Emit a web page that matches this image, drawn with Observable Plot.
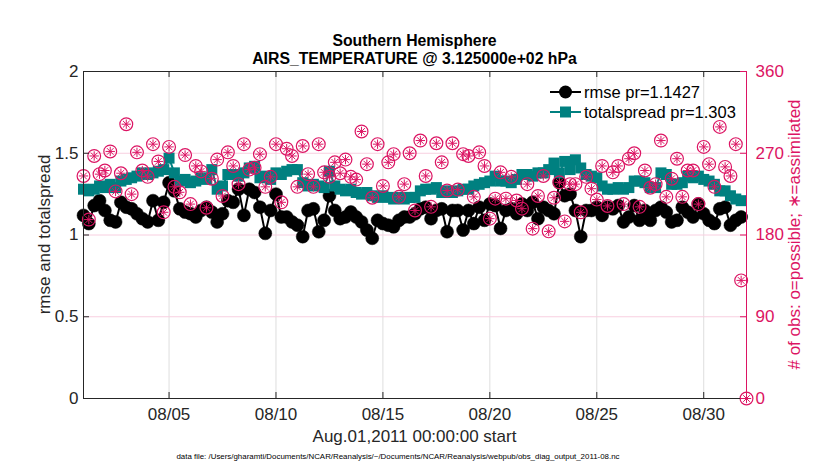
<!DOCTYPE html>
<html><head><meta charset="utf-8">
<script src="https://cdn.jsdelivr.net/npm/d3@7"></script>
<script src="https://cdn.jsdelivr.net/npm/@observablehq/plot@0.6"></script>
<style>body{margin:0;background:#fff}#chart{width:830px;height:470px}</style>
</head><body><div id="chart"></div>
<script>
// ---- data (6-hourly bins starting Aug 1 2011 00:00 UTC) ----
const rmse = [1.12,1.07,1.18,1.21,1.15,1.09,1.08,1.20,1.17,1.16,
1.13,1.10,1.08,1.21,1.09,1.20,1.32,1.27,1.16,1.14,
1.13,1.11,1.15,1.17,1.14,1.08,1.13,1.21,1.20,1.28,
1.12,1.28,1.26,1.17,1.01,1.15,1.25,1.11,1.11,1.08,
1.06,0.99,1.15,1.16,1.02,1.09,1.24,1.15,1.10,1.11,
1.14,1.11,1.08,1.03,0.98,1.09,1.07,1.06,1.05,1.09,
1.11,1.11,1.13,1.16,1.17,1.10,1.15,1.16,1.02,1.15,
1.15,1.03,1.15,1.07,1.17,1.09,1.19,1.18,1.04,1.15,
1.16,1.13,1.19,1.15,1.20,1.10,1.17,1.15,1.13,1.32,
1.24,1.25,1.15,0.99,1.15,1.15,1.17,1.12,1.17,1.16,
1.18,1.08,1.11,1.18,1.09,1.15,1.09,1.15,1.17,1.14,
1.08,1.09,1.17,1.14,1.11,1.19,1.13,1.09,1.07,1.16,
1.17,1.06,1.09,1.11];
const spread = [1.28,1.27,1.28,1.30,1.29,1.31,1.29,1.33,1.34,1.35,
1.36,1.38,1.37,1.38,1.39,1.40,1.47,1.38,1.33,1.34,
1.32,1.33,1.35,1.34,1.40,1.28,1.30,1.37,1.37,1.36,
1.38,1.41,1.42,1.35,1.36,1.34,1.38,1.37,1.39,1.40,
1.40,1.32,1.30,1.31,1.30,1.29,1.39,1.30,1.28,1.27,
1.28,1.26,1.25,1.26,1.24,1.23,1.24,1.23,1.22,1.23,
1.22,1.23,1.23,1.27,1.28,1.28,1.29,1.26,1.27,1.26,
1.27,1.28,1.28,1.30,1.31,1.32,1.33,1.36,1.33,1.33,
1.32,1.34,1.37,1.37,1.36,1.38,1.38,1.40,1.44,1.38,
1.45,1.40,1.46,1.41,1.37,1.36,1.35,1.30,1.28,1.28,
1.29,1.28,1.29,1.33,1.33,1.32,1.29,1.29,1.38,1.37,
1.31,1.31,1.32,1.36,1.35,1.36,1.34,1.33,1.31,1.27,
1.27,1.24,1.22,1.21];
const obsCount = [245,197,267,247,251,272,228,248,302,225,
271,251,244,280,261,205,277,233,227,268,
214,256,250,210,242,263,223,271,256,236,
280,252,254,269,233,244,280,216,275,267,
233,278,247,233,280,249,244,260,248,263,
244,241,294,258,221,280,234,260,269,222,
236,270,207,284,245,211,281,260,229,281,
230,269,267,222,271,256,198,220,249,220,
244,218,209,236,187,223,245,184,221,238,
195,236,236,205,244,231,219,256,212,249,
256,214,264,270,211,251,232,236,284,222,
242,264,222,251,251,214,277,258,233,299,
255,245,280,130,0];
const leftTicks = [0, 0.5, 1, 1.5, 2];
const rightTicks = [0, 90, 180, 270, 360];
const dateTickStrings = ["2011-08-05","2011-08-10","2011-08-15","2011-08-20","2011-08-25","2011-08-30"];
const rmseLabel = "rmse pr=1.1427";
const spreadLabel = "totalspread pr=1.303";
const titleLines = ["Southern Hemisphere", "AIRS_TEMPERATURE @ 3.125000e+02 hPa"];
const xLabel = "Aug.01,2011 00:00:00 start";
const yLabel = "rmse and totalspread";
const y2Label = "# of obs: o=possible; \u2217=assimilated";
const caption = "data file: /Users/gharamti/Documents/NCAR/Reanalysis/~/Documents/NCAR/Reanalysis/webpub/obs_diag_output_2011-08.nc";

// ---- derived ----
const t0 = Date.UTC(2011, 7, 1), t1 = Date.UTC(2011, 8, 1);
const stepMs = 6 * 3600 * 1000;
const timeOf = k => new Date(t0 + k * stepMs);
const series = rmse.map((r, k) => ({t: timeOf(k), rmse: r, spread: spread[k]}));
const obs = obsCount.map((n, k) => ({t: timeOf(k), n}));
const ratio = 2 / 360;
const dateTicks = dateTickStrings.map(s => new Date(s + "T00:00:00Z"));

const FONT = "'Liberation Sans', Arial, Helvetica, sans-serif";
const INK = "#262626", MAG = "#dc1463", TEAL = "#008080", PINK = "#f8cfe0", GRID = "#dedede";
const W = 830, H = 470, mL = 83, mR = 84, mT = 71, mB = 72;
const fw = W - mL - mR, fh = H - mT - mB;

const star8 = {draw(ctx, size) {
  const r = Math.sqrt(size / Math.PI);
  for (let i = 0; i < 4; i++) {
    const a = i * Math.PI / 4, c = Math.cos(a) * r, s = Math.sin(a) * r;
    ctx.moveTo(c, s); ctx.lineTo(-c, -s);
  }
}};

const chart = Plot.plot({
  width: W, height: H, marginLeft: mL, marginRight: mR, marginTop: mT, marginBottom: mB,
  style: {fontFamily: FONT, background: "white", color: INK},
  x: {type: "utc", domain: [new Date(t0), new Date(t1)]},
  y: {domain: [0, 2]},
  marks: [
    Plot.ruleX(dateTicks, {x: d => d, stroke: GRID, strokeWidth: 1}),
    Plot.ruleY(rightTicks.slice(1, -1), {y: d => d * ratio, stroke: PINK, strokeWidth: 1}),
    Plot.line(series, {x: "t", y: "rmse", stroke: "black", strokeWidth: 2}),
    Plot.dot(series, {x: "t", y: "rmse", r: 6.5, fill: "black", stroke: "black", strokeWidth: 0.5}),
    Plot.line(series, {x: "t", y: "spread", stroke: TEAL, strokeWidth: 2}),
    Plot.dot(series, {x: "t", y: "spread", symbol: "square", r: 6.2, fill: TEAL, stroke: "none"}),
    Plot.dot(obs, {x: "t", y: d => d.n * ratio, r: 6.4, fill: "none", stroke: MAG, strokeWidth: 1.2}),
    Plot.dot(obs, {x: "t", y: d => d.n * ratio, r: 4.7, symbol: star8, fill: "none", stroke: MAG, strokeWidth: 1}),
    // box
    Plot.ruleY([0], {stroke: INK, strokeWidth: 1}),
    Plot.ruleY([2], {stroke: INK, strokeWidth: 1}),
    Plot.ruleX([new Date(t0)], {stroke: INK, strokeWidth: 1}),
    Plot.ruleX([new Date(t1)], {stroke: MAG, strokeWidth: 1}),
    // inward ticks
    Plot.tickY(leftTicks, {y: d => d, stroke: INK, insetRight: fw - 6}),
    Plot.tickY(rightTicks, {y: d => d * ratio, stroke: MAG, insetLeft: fw - 6}),
    Plot.tickX(dateTicks, {x: d => d, stroke: INK, insetTop: fh - 6}),
    Plot.tickX(dateTicks, {x: d => d, stroke: INK, insetBottom: fh - 6}),
    // tick labels
    Plot.axisX({ticks: dateTicks, tickFormat: d3.utcFormat("%m/%d"), tickSize: 0, tickPadding: 9, fontSize: 17, label: null, fill: INK}),
    Plot.axisY({anchor: "left", ticks: leftTicks, tickFormat: d => String(d), tickSize: 0, tickPadding: 5, fontSize: 17, label: null, fill: INK}),
    Plot.axisY({anchor: "right", ticks: rightTicks.map(v => v * ratio), tickFormat: d => String(Math.round(d / ratio)), tickSize: 0, tickPadding: 9, fontSize: 17, label: null, fill: MAG})
  ]
});
document.getElementById("chart").appendChild(chart);

// ---- annotations ----
const svg = d3.select(chart);
const g = svg.append("g").attr("font-family", FONT);
const cx = mL + fw / 2;
g.append("text").attr("x", cx).attr("y", 46).attr("text-anchor", "middle").attr("font-size", 15.8).attr("font-weight", "bold").attr("fill", "black").text(titleLines[0]);
g.append("text").attr("x", cx).attr("y", 64).attr("text-anchor", "middle").attr("font-size", 15.8).attr("font-weight", "bold").attr("fill", "black").text(titleLines[1]);
g.append("text").attr("transform", "translate(50,234.5) rotate(-90)").attr("text-anchor", "middle").attr("font-size", 17).attr("fill", INK).text(yLabel);
g.append("text").attr("transform", "translate(800,234.5) rotate(-90)").attr("text-anchor", "middle").attr("font-size", 17).attr("fill", MAG).text(y2Label);
g.append("text").attr("x", cx).attr("y", 442).attr("text-anchor", "middle").attr("font-size", 17).attr("fill", INK).text(xLabel);
g.append("text").attr("x", 398).attr("y", 459).attr("text-anchor", "middle").attr("font-size", 7.9).attr("fill", "black").text(caption);

// legend
const leg = [
  {y: 92, color: "black", label: rmseLabel, kind: "circle"},
  {y: 112, color: TEAL, label: spreadLabel, kind: "square"}
];
leg.forEach(e => {
  g.append("line").attr("x1", 550).attr("x2", 581).attr("y1", e.y).attr("y2", e.y).attr("stroke", e.color).attr("stroke-width", 2);
  if (e.kind === "circle") g.append("circle").attr("cx", 565.5).attr("cy", e.y).attr("r", 6.5).attr("fill", e.color);
  else g.append("rect").attr("x", 560).attr("y", e.y - 5.5).attr("width", 11).attr("height", 11).attr("fill", e.color);
  g.append("text").attr("x", 584).attr("y", e.y + 6).attr("text-anchor", "start").attr("font-size", 16.5).attr("fill", "black").text(e.label);
});
</script></body></html>
